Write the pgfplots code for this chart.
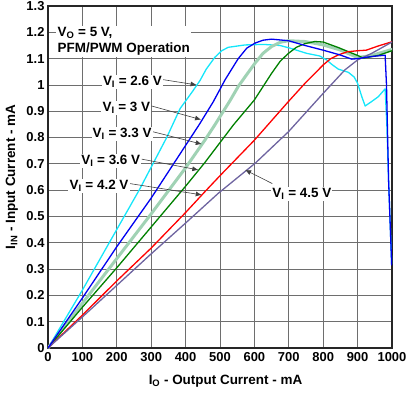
\documentclass[border=0pt]{standalone}
\usepackage{fontspec}
\setmainfont{Liberation Sans}
\usepackage{pgfplots}
\pgfplotsset{compat=1.18}
\usetikzlibrary{arrows.meta}
\definecolor{ccyan}{RGB}{20,230,250}
\definecolor{cblue}{RGB}{0,0,240}
\definecolor{clgreen}{RGB}{160,210,180}
\definecolor{cgreen}{RGB}{0,128,0}
\definecolor{cred}{RGB}{255,0,0}
\definecolor{cpurple}{RGB}{110,100,160}
\definecolor{cgrid}{RGB}{110,110,110}
\begin{document}
\begin{tikzpicture}[font=\bfseries\fontsize{13.5}{15.5}\selectfont]
\begin{axis}[
  scale only axis, width=344bp, height=342bp,
  xmin=0, xmax=1000, ymin=0, ymax=1.3,
  xtick={0,100,...,1000},
  ytick={0,0.1,0.2,0.3,0.4,0.5,0.6,0.7,0.8,0.9,1,1.1,1.2,1.3},
  yticklabels={0,0.1,0.2,0.3,0.4,0.5,0.6,0.7,0.8,0.9,1,1.1,1.2,1.3},
  /pgf/number format/1000 sep={},
  /pgf/number format/assume math mode=true,
  major tick length=0pt,
  tick label style={font=\bfseries\fontsize{13}{15}\selectfont},
  xticklabel style={yshift=-1bp},
  grid=major,
  grid style={cgrid, line width=0.8bp},
  axis line style={line width=1.3bp, black!85},
  xlabel={I\textsubscript{O} - Output Current - mA},
  ylabel={I\textsubscript{IN} - Input Current - mA},
  xlabel style={at={(axis description cs:0.516,-0.096)}, anchor=center},
  ylabel style={at={(axis description cs:-0.105,0.5)}, anchor=center, rotate=0},
  label style={font=\bfseries\fontsize{13.5}{15.5}\selectfont},
  every axis plot/.append style={line join=round, line cap=round},
]
\addplot[ccyan, line width=1.3bp] coordinates {
(0,0) (100,0.22) (178,0.40) (265,0.60) (345,0.80) (384,0.91) (420,0.975)
(442,1.017) (460,1.06) (485,1.105) (505,1.13) (524,1.143) (573,1.152) (626,1.154)
(674,1.15) (703,1.14) (752,1.12) (790,1.11) (810,1.095) (825,1.078) (844,1.06)
(873,1.048) (890,1.03) (900,1.006) (912,0.956) (922,0.92) (941,0.937) (960,0.955)
(980,0.985) (985,0.85) (990,0.64) (999,0.32)};
\addplot[clgreen, line width=3bp] coordinates {
(0,0) (100,0.17) (200,0.34) (300,0.51) (400,0.685) (456,0.79) (485,0.848)
(529,0.94) (553,0.994) (578,1.04) (602,1.083) (625,1.12) (650,1.146) (675,1.162) (699,1.168)
(747,1.165) (800,1.152) (849,1.133) (900,1.104) (941,1.112) (1000,1.135)};
\addplot[cgreen, line width=1.3bp] coordinates {
(0,0) (100,0.155) (200,0.305) (300,0.46) (400,0.615) (456,0.705) (539,0.848)
(600,0.943) (650,1.044) (675,1.09) (699,1.12) (722,1.143) (747,1.157) (776,1.165) (800,1.163)
(844,1.142) (900,1.112) (917,1.102) (960,1.112) (1000,1.13)};
\addplot[cred, line width=1.3bp] coordinates {
(0,0) (100,0.125) (200,0.255) (300,0.38) (400,0.515) (456,0.594) (500,0.655)
(600,0.79) (699,0.937) (747,1.006) (800,1.076) (822,1.1) (844,1.114) (870,1.126) (900,1.13)
(925,1.132) (960,1.148) (1000,1.164)};
\addplot[cpurple, line width=1.3bp] coordinates {
(0,0) (100,0.118) (200,0.238) (300,0.358) (400,0.475) (495,0.588) (602,0.702)
(699,0.822) (800,0.968) (863,1.057) (900,1.095) (941,1.12) (1000,1.163)};
\addplot[cblue, line width=1.3bp] coordinates {
(0,0) (100,0.19) (200,0.385) (300,0.57) (400,0.77) (440,0.85) (480,0.935)
(515,1.02) (553,1.10) (578,1.14) (602,1.159) (625,1.17) (650,1.174) (699,1.168)
(747,1.15) (800,1.132) (849,1.114) (883,1.098) (900,1.10) (941,1.108)
(980,1.113) (984,1.0) (990,0.64) (999,0.316)};

\tikzset{lbl/.style={fill=white, inner sep=1.2bp},
  arr/.style={-{Latex[length=6bp,width=5bp]}, line width=0.6bp, black!75}}
\node[lbl, anchor=west, align=left] at (axis cs:24,1.165)
  {V\textsubscript{O} = 5 V,\\[0.5bp]PFM/PWM Operation};
\draw[arr] (axis cs:335,1.02) -- (axis cs:432,1.0);
\node[lbl, anchor=east] at (axis cs:335,1.012) {V\textsubscript{I} = 2.6 V};
\draw[arr] (axis cs:301,0.92) -- (axis cs:445,0.868);
\node[lbl, anchor=east] at (axis cs:301,0.912) {V\textsubscript{I} = 3 V};
\draw[arr] (axis cs:305,0.822) -- (axis cs:447,0.775);
\node[lbl, anchor=east] at (axis cs:305,0.814) {V\textsubscript{I} = 3.3 V};
\draw[arr] (axis cs:272,0.718) -- (axis cs:437,0.677);
\node[lbl, anchor=east] at (axis cs:272,0.710) {V\textsubscript{I} = 3.6 V};
\draw[arr] (axis cs:238,0.625) -- (axis cs:447,0.582);
\node[lbl, anchor=east] at (axis cs:238,0.617) {V\textsubscript{I} = 4.2 V};
\draw[arr] (axis cs:652,0.625) -- (axis cs:573,0.677);
\node[lbl] at (axis cs:738,0.585) {V\textsubscript{I} = 4.5 V};
\end{axis}
\pgfresetboundingbox
\useasboundingbox ([shift={(-48bp,-48bp)}]current axis.south west) rectangle ([shift={(18bp,6bp)}]current axis.north east);
\end{tikzpicture}
\end{document}
